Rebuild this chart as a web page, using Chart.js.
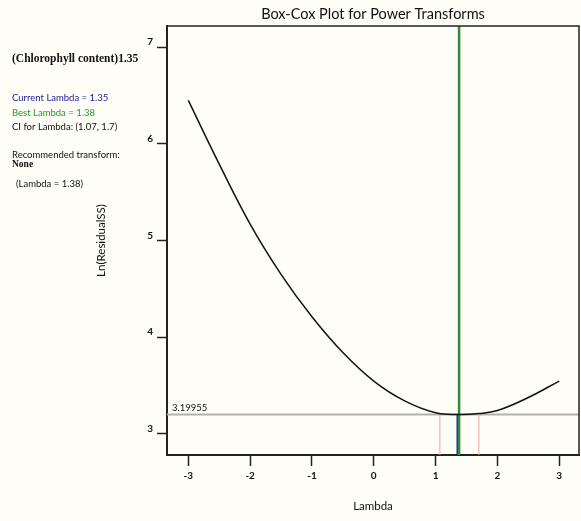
<!DOCTYPE html>
<html>
<head>
<meta charset="utf-8">
<title>Box-Cox Plot for Power Transforms</title>
<script src="https://cdn.jsdelivr.net/npm/chart.js@4.4.1/dist/chart.umd.min.js"></script>
<style>
  body { margin: 0; background: #fefef7; }
  #wrap { width: 581px; height: 521px; }
</style>
</head>
<body>
<div id="wrap"><canvas id="boxCox" width="581" height="521"></canvas></div>
<script>
// Box-Cox curve: ln(residual SS) against lambda
const lambdas = [-3, -2.5, -2, -1.5, -1, -0.5, 0, 0.5, 1, 1.38, 1.7, 2, 2.5, 3];
const lnResidualSS = [6.45, 5.79, 5.17, 4.65, 4.21, 3.84, 3.545, 3.34, 3.217, 3.19955, 3.209, 3.24, 3.375, 3.545];

const xTicks = [-3, -2, -1, 0, 1, 2, 3];
const yTicks = [3, 4, 5, 6, 7];
const xRange = [-3.345, 3.32];
const yRange = [2.78, 7.22];

const responseName = "Chlorophyll content";
const currentLambda = 1.35;
const bestLambda = 1.38;
const ciLambda = [1.07, 1.7];
const minLnSS = 3.19955;

const ink = "#222";
const bg = "#fefef7";

function vline(x, y0, y1) {
  return [{x: x, y: y0}, {x: x, y: y1}];
}

const datasets = [
  {
    label: "ln SS",
    data: lambdas.map((l, i) => ({x: l, y: lnResidualSS[i]})),
    borderColor: "#111",
    borderWidth: 1.5,
    tension: 0.4,
    order: 0
  },
  {
    label: "best",
    data: vline(bestLambda, yRange[0], yRange[1]),
    borderColor: "#2f8a3a",
    borderWidth: 2.5,
    order: 1
  },
  {
    label: "current",
    data: vline(currentLambda, yRange[0], minLnSS),
    borderColor: "#22309a",
    borderWidth: 1.5,
    order: 2
  },
  {
    label: "ci low",
    data: vline(ciLambda[0], yRange[0], minLnSS),
    borderColor: "#f0a5a5",
    borderWidth: 1,
    order: 3
  },
  {
    label: "ci high",
    data: vline(ciLambda[1], yRange[0], minLnSS),
    borderColor: "#f0a5a5",
    borderWidth: 1,
    order: 3
  },
  {
    label: "min",
    data: [{x: xRange[0], y: minLnSS}, {x: xRange[1], y: minLnSS}],
    borderColor: "#b5b0aa",
    borderWidth: 2,
    order: 4
  }
];

// background, frame, title and the side notes
const decorations = {
  id: "decorations",
  beforeDraw(chart) {
    const ctx = chart.ctx;
    ctx.save();
    ctx.fillStyle = bg;
    ctx.fillRect(0, 0, chart.width, chart.height);
    ctx.restore();
  },
  afterDatasetsDraw(chart) {
    const {ctx, chartArea: a, scales} = chart;
    ctx.save();
    ctx.strokeStyle = ink;
    ctx.lineWidth = 1.5;
    ctx.beginPath();
    ctx.moveTo(a.left, a.top);
    ctx.lineTo(a.right, a.top);
    ctx.lineTo(a.right, a.bottom);
    ctx.stroke();

    ctx.fillStyle = "#111";
    ctx.textBaseline = "middle";
    ctx.textAlign = "left";
    ctx.font = "9.5px Lato";
    ctx.fillText(String(minLnSS), a.left + 5, scales.y.getPixelForValue(minLnSS) - 7);

    ctx.textAlign = "center";
    ctx.font = "14.5px Lato";
    ctx.fillText("Box-Cox Plot for Power Transforms", (a.left + a.right) / 2, 14);

    ctx.textAlign = "left";
    ctx.font = "bold 11.5px 'Liberation Serif'";
    ctx.fillText("(" + responseName + ")" + currentLambda, 12, 59);

    ctx.font = "9.5px Lato";
    ctx.fillStyle = "#20209a";
    ctx.fillText("Current Lambda = " + currentLambda, 12, 98);
    ctx.fillStyle = "#1f9a2a";
    ctx.fillText("Best Lambda = " + bestLambda, 12, 113);
    ctx.fillStyle = "#111";
    ctx.fillText("CI for Lambda: (" + ciLambda[0] + ", " + ciLambda[1] + ")", 12, 127);
    ctx.fillText("Recommended transform:", 12, 155);
    ctx.fillText("(Lambda = " + bestLambda + ")", 16, 184);
    ctx.font = "bold 9.5px 'Liberation Serif'";
    ctx.fillText("None", 12, 165);
    ctx.restore();
  }
};

new Chart(document.getElementById("boxCox"), {
  type: "scatter",
  data: {datasets: datasets},
  plugins: [decorations],
  options: {
    responsive: false,
    animation: false,
    showLine: true,
    layout: {padding: {top: 26, right: 2, left: 0, bottom: 0}},
    elements: {point: {radius: 0, hoverRadius: 0}},
    plugins: {legend: {display: false}, tooltip: {enabled: false}},
    scales: {
      x: {
        type: "linear",
        min: xRange[0],
        max: xRange[1],
        afterBuildTicks: s => { s.ticks = xTicks.map(v => ({value: v})); },
        afterFit: s => { s.height = 66; },
        grid: {drawOnChartArea: false, tickLength: 11, tickColor: ink, tickWidth: 1.5},
        border: {color: ink, width: 2},
        ticks: {autoSkip: false, maxRotation: 0, padding: 4, color: "#111",
                font: {family: "Lato", size: 10, weight: "bold"}},
        title: {display: true, text: "Lambda", color: "#111",
                font: {family: "Lato", size: 11.5}, padding: {top: 0, bottom: 8}}
      },
      y: {
        type: "linear",
        min: yRange[0],
        max: yRange[1],
        afterBuildTicks: s => { s.ticks = yTicks.map(v => ({value: v})); },
        afterFit: s => { s.width = 167; },
        grid: {drawOnChartArea: false, tickLength: 10, tickColor: ink, tickWidth: 1.5},
        border: {color: ink, width: 2},
        ticks: {autoSkip: false, padding: 4, labelOffset: -5, color: "#111",
                font: {family: "Lato", size: 10, weight: "bold"}},
        title: {display: true, text: "Ln(ResidualSS)", color: "#111",
                font: {family: "Lato", size: 11.5}, padding: {top: 94, bottom: 0}}
      }
    }
  }
});
</script>
</body>
</html>
